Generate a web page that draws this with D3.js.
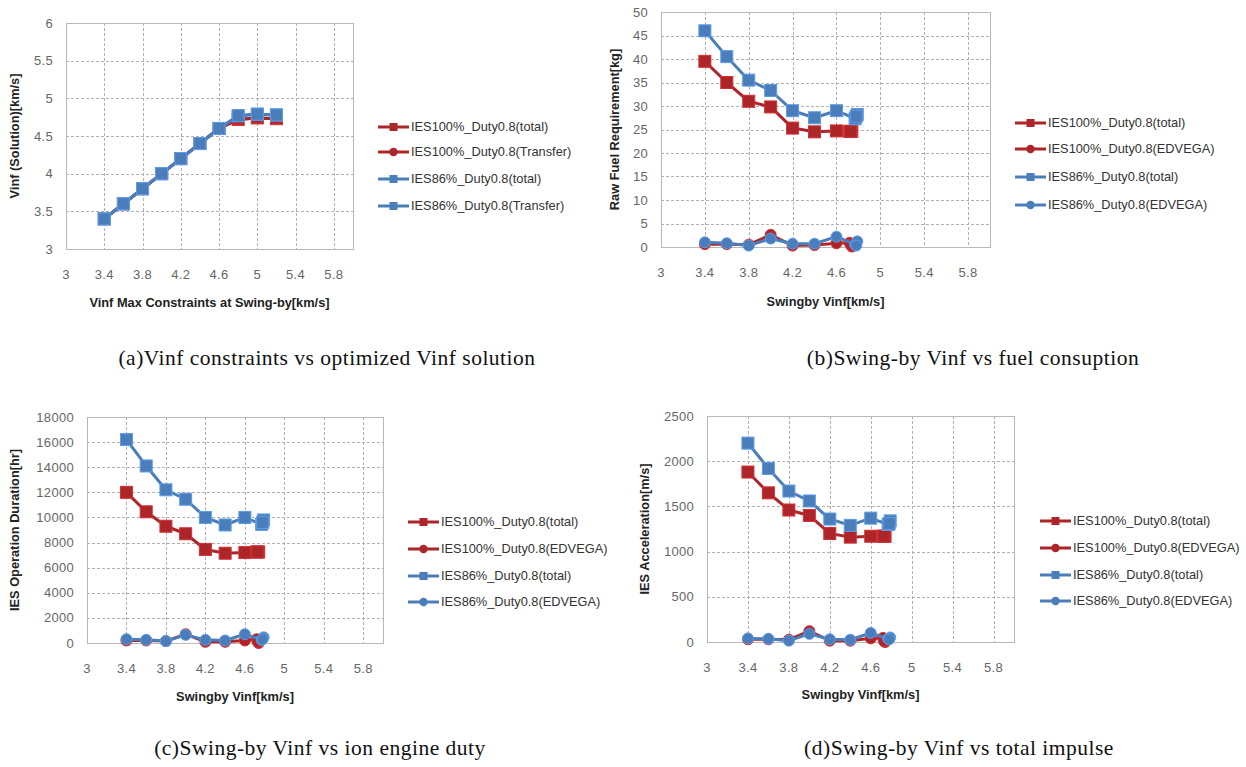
<!DOCTYPE html>
<meta charset="utf-8">
<style>
body { margin: 0; background: white; }
svg { font-family: "Liberation Sans", Arial, sans-serif; }
.grid line { stroke: #b0b0b0; stroke-dasharray: 3,2; stroke-width: 1px; shape-rendering: crispEdges; }
.frame { fill: none; stroke: #b8b8b8; stroke-width: 1px; shape-rendering: crispEdges; }
.tick-label { fill: #666; font-size: 13px; letter-spacing: 0.3px; }
.axis-title { fill: #222; font-size: 12.8px; font-weight: bold; }
.legend-text { fill: #333; font-size: 12.8px; }
.caption { font-family: "Liberation Serif", "Times New Roman", serif; font-size: 21.5px; letter-spacing: 0.5px; fill: #111; }
.line { fill: none; stroke-width: 3px; stroke-linejoin: round; }
</style>
<body>
<script src="https://cdn.jsdelivr.net/npm/d3@7"></script>
<script>

// ---- data ----
var xTicks = [3, 3.4, 3.8, 4.2, 4.6, 5, 5.4, 5.8];

// swing-by constraint (panel a x values)
var constraintX = [3.4, 3.6, 3.8, 4.0, 4.2, 4.4, 4.6, 4.8, 5.0, 5.2];
// optimized Vinf solution (panel a y values, x values of b/c/d)
var vinfRed  = [3.4, 3.6, 3.8, 4.0, 4.2, 4.4, 4.6, 4.72, 4.74, 4.73];
var vinfBlue = [3.4, 3.6, 3.8, 4.0, 4.2, 4.4, 4.6, 4.77, 4.79, 4.78];

// (b) raw fuel requirement [kg]
var fuelRedTotal   = [39.5, 35, 31, 29.8, 25.3, 24.5, 24.7, 24.6, 24.6, 24.6];
var fuelRedEdvega  = [0.6, 0.6, 0.5, 2.6, 0.3, 0.4, 0.8, 0.9, 0.1, 0.5];
var fuelBlueTotal  = [46, 40.5, 35.5, 33.3, 29, 27.5, 29, 27.3, 28.2, 27.8];
var fuelBlueEdvega = [1.0, 0.8, 0.3, 1.8, 0.7, 0.7, 2.2, 0.5, 1.2, 0.3];

// (c) IES operation duration [hr]
var durRedTotal   = [12000, 10450, 9300, 8700, 7450, 7150, 7200, 7250, 7250, 7250];
var durRedEdvega  = [200, 200, 150, 700, 100, 100, 200, 300, 0, 100];
var durBlueTotal  = [16200, 14100, 12200, 11450, 10000, 9400, 10000, 9450, 9800, 9600];
var durBlueEdvega = [300, 250, 150, 650, 250, 200, 700, 250, 450, 300];

// (d) IES acceleration [m/s]
var accRedTotal   = [1880, 1650, 1460, 1400, 1200, 1160, 1170, 1170, 1170, 1170];
var accRedEdvega  = [30, 30, 25, 120, 15, 15, 40, 45, 0, 10];
var accBlueTotal  = [2200, 1920, 1670, 1560, 1360, 1290, 1370, 1300, 1340, 1310];
var accBlueEdvega = [40, 35, 15, 90, 30, 25, 100, 35, 50, 30];

var namesA = ["IES100%_Duty0.8(total)", "IES100%_Duty0.8(Transfer)", "IES86%_Duty0.8(total)", "IES86%_Duty0.8(Transfer)"];
var namesB = ["IES100%_Duty0.8(total)", "IES100%_Duty0.8(EDVEGA)", "IES86%_Duty0.8(total)", "IES86%_Duty0.8(EDVEGA)"];

var red = "#ac2629", blue = "#4a7ebb";

var svg = d3.select("body").append("svg")
    .attr("width", 1246)
    .attr("height", 767);

function zip(xs, ys) {
  return xs.map(function(x, i) { return {x: x, y: ys[i]}; });
}

// draws one Excel-style panel
function drawPanel(p) {
  var x = d3.scaleLinear().domain([3, 6]).range([p.left, p.right]);
  var y = d3.scaleLinear().domain([0, p.yMax]).range([p.bottom, p.top]);
  if (p.yMin !== undefined) y.domain([p.yMin, p.yMax]);

  var g = svg.append("g");

  // grid
  var grid = g.append("g").attr("class", "grid");
  grid.selectAll(".gx").data(xTicks.slice(1)).enter().append("line")
      .attr("x1", function(d) { return Math.round(x(d)) + 0.5; })
      .attr("x2", function(d) { return Math.round(x(d)) + 0.5; })
      .attr("y1", p.top).attr("y2", p.bottom);
  grid.selectAll(".gy").data(p.yTicks.slice(1, -1)).enter().append("line")
      .attr("y1", function(d) { return Math.round(y(d)) + 0.5; })
      .attr("y2", function(d) { return Math.round(y(d)) + 0.5; })
      .attr("x1", p.left).attr("x2", p.right);

  g.append("rect").attr("class", "frame")
      .attr("x", p.left + 0.5).attr("y", p.top + 0.5)
      .attr("width", p.right - p.left).attr("height", p.bottom - p.top);

  // tick labels
  g.selectAll(".yl").data(p.yTicks).enter().append("text")
      .attr("class", "tick-label")
      .attr("x", p.left - 13)
      .attr("y", function(d) { return y(d); })
      .attr("dy", "0.35em")
      .style("text-anchor", "end")
      .text(function(d) { return d; });
  g.selectAll(".xl").data(xTicks).enter().append("text")
      .attr("class", "tick-label")
      .attr("x", function(d) { return x(d); })
      .attr("y", p.bottom + 25)
      .attr("dy", "0.35em")
      .style("text-anchor", "middle")
      .text(function(d) { return d; });

  // axis titles
  g.append("text").attr("class", "axis-title")
      .attr("x", (p.left + p.right) / 2).attr("y", p.xTitleY)
      .attr("dy", "0.35em")
      .style("text-anchor", "middle")
      .text(p.xTitle);
  g.append("text").attr("class", "axis-title")
      .attr("transform", "translate(" + p.yTitleX + "," + (p.top + p.bottom) / 2 + ") rotate(-90)")
      .attr("dy", "0.35em")
      .style("text-anchor", "middle")
      .text(p.yTitle);

  // series
  var line = d3.line()
      .x(function(d) { return x(d.x); })
      .y(function(d) { return y(d.y); });

  p.series.forEach(function(s) {
    var pts = zip(s.xs, s.ys);
    g.append("path").datum(pts)
        .attr("class", "line")
        .style("stroke", s.color)
        .attr("d", line);
    if (s.shape === "square") {
      g.selectAll(null).data(pts).enter().append("rect")
          .attr("x", function(d) { return x(d.x) - 6; })
          .attr("y", function(d) { return y(d.y) - 6; })
          .attr("width", 12).attr("height", 12)
          .style("fill", s.color)
          .style("stroke", d3.color(s.color).brighter(0.6))
          .style("stroke-width", 1);
    } else {
      g.selectAll(null).data(pts).enter().append("circle")
          .attr("cx", function(d) { return x(d.x); })
          .attr("cy", function(d) { return y(d.y); })
          .attr("r", 5.5)
          .style("fill", s.color)
          .style("stroke", d3.color(s.color).brighter(0.6))
          .style("stroke-width", 1);
    }
  });

  // legend
  var lg = g.append("g");
  p.series.forEach(function(s, i) {
    var ly = p.legendY[i];
    lg.append("line")
        .attr("x1", p.legendX).attr("x2", p.legendX + 31)
        .attr("y1", ly).attr("y2", ly)
        .style("stroke", s.color).style("stroke-width", 3);
    if (s.shape === "square") {
      lg.append("rect")
          .attr("x", p.legendX + 11.5).attr("y", ly - 4)
          .attr("width", 8).attr("height", 8)
          .style("fill", s.color);
    } else {
      lg.append("circle")
          .attr("cx", p.legendX + 15.5).attr("cy", ly).attr("r", 4.2)
          .style("fill", s.color);
    }
    lg.append("text").attr("class", "legend-text")
        .attr("x", p.legendX + 33).attr("y", ly)
        .attr("dy", "0.35em")
        .text(s.name);
  });

  // caption
  svg.append("text").attr("class", "caption")
      .attr("x", p.captionX).attr("y", p.captionY)
      .attr("dy", "0.35em")
      .style("text-anchor", "middle")
      .text(p.caption);
}

// (a)
drawPanel({
  left: 66, right: 353, top: 23, bottom: 249,
  yMin: 3, yMax: 6, yTicks: [3, 3.5, 4, 4.5, 5, 5.5, 6],
  xTitle: "Vinf Max Constraints at Swing-by[km/s]", xTitleY: 303,
  yTitle: "Vinf (Solution)[km/s]", yTitleX: 15,
  legendX: 378, legendY: [127, 152, 179, 206],
  caption: "(a)Vinf constraints vs optimized Vinf solution", captionX: 327, captionY: 357,
  series: [
    {name: namesA[0], color: red, shape: "square", xs: constraintX, ys: vinfRed},
    {name: namesA[1], color: red, shape: "circle", xs: constraintX, ys: vinfRed},
    {name: namesA[2], color: blue, shape: "square", xs: constraintX, ys: vinfBlue},
    {name: namesA[3], color: blue, shape: "square", xs: constraintX, ys: vinfBlue}
  ]
});

// (b)
drawPanel({
  left: 661, right: 990, top: 12, bottom: 247,
  yMax: 50, yTicks: [0, 5, 10, 15, 20, 25, 30, 35, 40, 45, 50],
  xTitle: "Swingby Vinf[km/s]", xTitleY: 302,
  yTitle: "Raw Fuel Requirement[kg]", yTitleX: 615,
  legendX: 1015, legendY: [123, 149, 177, 205],
  caption: "(b)Swing-by Vinf vs fuel consuption", captionX: 973, captionY: 357,
  series: [
    {name: namesB[0], color: red, shape: "square", xs: vinfRed, ys: fuelRedTotal},
    {name: namesB[1], color: red, shape: "circle", xs: vinfRed, ys: fuelRedEdvega},
    {name: namesB[2], color: blue, shape: "square", xs: vinfBlue, ys: fuelBlueTotal},
    {name: namesB[3], color: blue, shape: "circle", xs: vinfBlue, ys: fuelBlueEdvega}
  ]
});

// (c)
drawPanel({
  left: 87, right: 383, top: 417, bottom: 643,
  yMax: 18000, yTicks: [0, 2000, 4000, 6000, 8000, 10000, 12000, 14000, 16000, 18000],
  xTitle: "Swingby Vinf[km/s]", xTitleY: 697,
  yTitle: "IES Operation Duration[hr]", yTitleX: 15,
  legendX: 408, legendY: [522, 549, 576, 602],
  caption: "(c)Swing-by Vinf vs ion engine duty", captionX: 320, captionY: 747,
  series: [
    {name: namesB[0], color: red, shape: "square", xs: vinfRed, ys: durRedTotal},
    {name: namesB[1], color: red, shape: "circle", xs: vinfRed, ys: durRedEdvega},
    {name: namesB[2], color: blue, shape: "square", xs: vinfBlue, ys: durBlueTotal},
    {name: namesB[3], color: blue, shape: "circle", xs: vinfBlue, ys: durBlueEdvega}
  ]
});

// (d)
drawPanel({
  left: 707, right: 1014, top: 416, bottom: 642,
  yMax: 2500, yTicks: [0, 500, 1000, 1500, 2000, 2500],
  xTitle: "Swingby Vinf[km/s]", xTitleY: 695,
  yTitle: "IES Acceleration[m/s]", yTitleX: 645,
  legendX: 1040, legendY: [521, 548, 575, 601],
  caption: "(d)Swing-by Vinf vs total impulse", captionX: 959, captionY: 747,
  series: [
    {name: namesB[0], color: red, shape: "square", xs: vinfRed, ys: accRedTotal},
    {name: namesB[1], color: red, shape: "circle", xs: vinfRed, ys: accRedEdvega},
    {name: namesB[2], color: blue, shape: "square", xs: vinfBlue, ys: accBlueTotal},
    {name: namesB[3], color: blue, shape: "circle", xs: vinfBlue, ys: accBlueEdvega}
  ]
});

</script>
</body>
